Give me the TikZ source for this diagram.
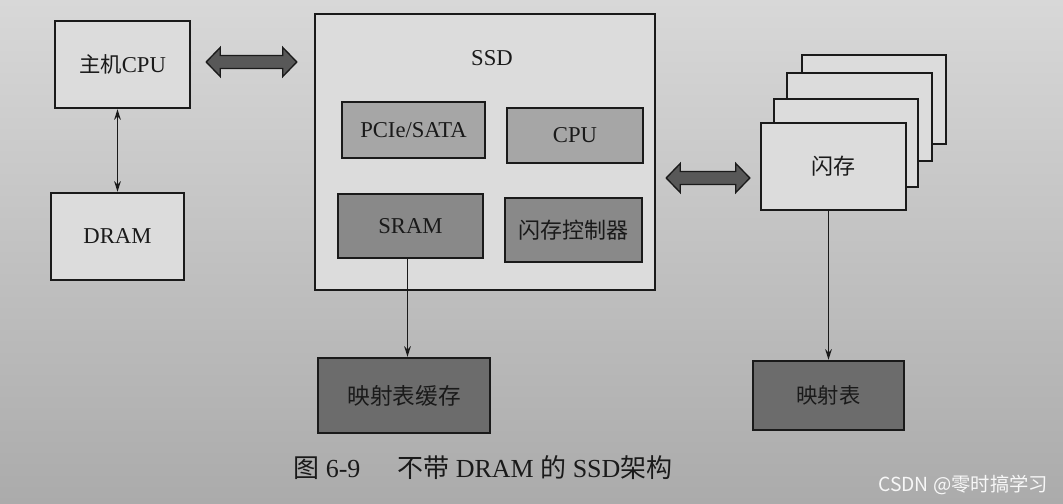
\documentclass[tikz,border=0pt]{standalone}
\usepackage{fontspec}
\setmainfont{Liberation Serif}
\newfontfamily\cjk{Noto Sans CJK SC}
\newfontfamily\wmfont{Noto Sans CJK SC}
\usetikzlibrary{calc,arrows.meta}

\definecolor{bgtop}{HTML}{D8D8D8}
\definecolor{bgmid}{HTML}{D2D2D2}
\definecolor{bgbot}{HTML}{ABABAB}
\definecolor{boxlight}{HTML}{DCDCDC}
\definecolor{boxmid}{HTML}{A6A6A6}
\definecolor{boxdark}{HTML}{898989}
\definecolor{boxdarker}{HTML}{6C6C6C}
\definecolor{arrowfill}{HTML}{585858}
\definecolor{ink}{HTML}{1A1A1A}

\newcommand{\bigdarrow}[2]{%
  \draw[fatarr] (#1) -- ($(#1)+(14,-14.5)$) -- ($(#1)+(14,-6.5)$) -- ($(#2)+(-14,-6.5)$)
    -- ($(#2)+(-14,-14.5)$) -- (#2) -- ($(#2)+(-14,14.5)$) -- ($(#2)+(-14,6.5)$)
    -- ($(#1)+(14,6.5)$) -- ($(#1)+(14,14.5)$) -- cycle;}

\begin{document}
\begin{tikzpicture}[x=0.75pt,y=-0.75pt,
  box/.style={draw=ink, line width=1.8pt, inner sep=0pt, text=ink,
              font=\fontsize{17}{20}\selectfont},
  sz/.style 2 args={minimum width={#1*0.75pt}, minimum height={#2*0.75pt}},
  lbl/.style={inner sep=0pt, text=ink, font=\fontsize{17}{20}\selectfont},
  tip/.style={Stealth[length=8pt,width=5pt]},
  thinarr/.style={draw=ink, line width=1pt, -{Stealth[length=8pt,width=5pt]}},
  thindarr/.style={draw=ink, line width=1pt, {Stealth[length=8pt,width=5pt]}-{Stealth[length=8pt,width=5pt]}},
  fatarr/.style={draw=ink, line width=1pt, fill=arrowfill, line join=miter},
  caption/.style={inner sep=0pt, text=ink, font=\fontsize{19.5}{22}\selectfont},
]
\shade[top color=bgtop, middle color=bgmid, bottom color=bgbot] (0,0) rectangle (1063,503);
\useasboundingbox (0,0) rectangle (1063,503);

% host side
\node[box, fill=boxlight, sz={135}{87}] (cpu) at (122.5,64.5) {{\cjk\fontsize{16}{19}\selectfont 主机}CPU};
\node[box, fill=boxlight, sz={133}{87}] (dram) at (117.5,236.5) {DRAM};
\draw[thindarr] (dram.north) -- (dram.north |- cpu.south);

% SSD
\node[box, fill=boxlight, sz={340}{276}] (ssd) at (485,152) {};
\node[lbl] (ssdl) at (492,58) {SSD};
\node[box, fill=boxmid, sz={143}{56}] (pcie) at (413.5,130) {PCIe/SATA};
\node[box, fill=boxmid, sz={136}{55}] (scpu) at (575,135.5) {CPU};
\node[box, fill=boxdark, sz={145}{64}] (sram) at (410.5,226) {SRAM};
\node[box, fill=boxdark, sz={137}{64}] (fc) at (573.5,230) {\cjk\fontsize{16.5}{19}\selectfont 闪存控制器};

% flash stack
\node[box, fill=boxlight, sz={144}{89}] (fl3) at (874,99.5) {};
\node[box, fill=boxlight, sz={145}{88}] (fl2) at (859.5,117) {};
\node[box, fill=boxlight, sz={144}{88}] (fl1) at (846,143) {};
\node[box, fill=boxlight, sz={145}{87}] (flash) at (833.5,166.5) {\cjk\fontsize{16.5}{19}\selectfont 闪存};

% mapping tables
\node[box, fill=boxdarker, sz={172}{75}] (mapc) at (404,395.5) {\cjk\fontsize{17}{20}\selectfont 映射表缓存};
\node[box, fill=boxdarker, sz={151}{69}] (map) at (828.5,395.5) {\cjk\fontsize{16}{19}\selectfont 映射表};

\draw[thinarr] ($(sram.south)+(-3,0)$) -- ($(sram.south |- mapc.north)+(-3,0)$);
\draw[thinarr] ($(flash.south)+(-5,0)$) -- ($(flash.south |- map.north)+(-5,0)$);

% fat double arrows
\coordinate (h1a) at ($(cpu.east)+(15,-2.5)$);
\coordinate (h1b) at ($(h1a -| ssd.west)+(-17,0)$);
\bigdarrow{h1a}{h1b}
\coordinate (h2y) at (0,178);
\coordinate (h2a) at ($(ssd.east |- h2y)+(10,0)$);
\coordinate (h2b) at ($(flash.west |- h2y)+(-10,0)$);
\bigdarrow{h2a}{h2b}

% caption
\node[caption, anchor=base west] (cap1) at (293,477) {{\cjk 图} 6-9};
\node[caption, anchor=base west] (cap2) at (397,477) {{\cjk 不带} DRAM {\cjk 的} SSD{\cjk 架构}};

% watermark
\node[anchor=base west, inner sep=0pt, text=white!94!gray,
      font=\wmfont\fontsize{14.5}{16}\selectfont] (wm) at (878,491) {CSDN @零时搞学习};
\end{tikzpicture}
\end{document}
